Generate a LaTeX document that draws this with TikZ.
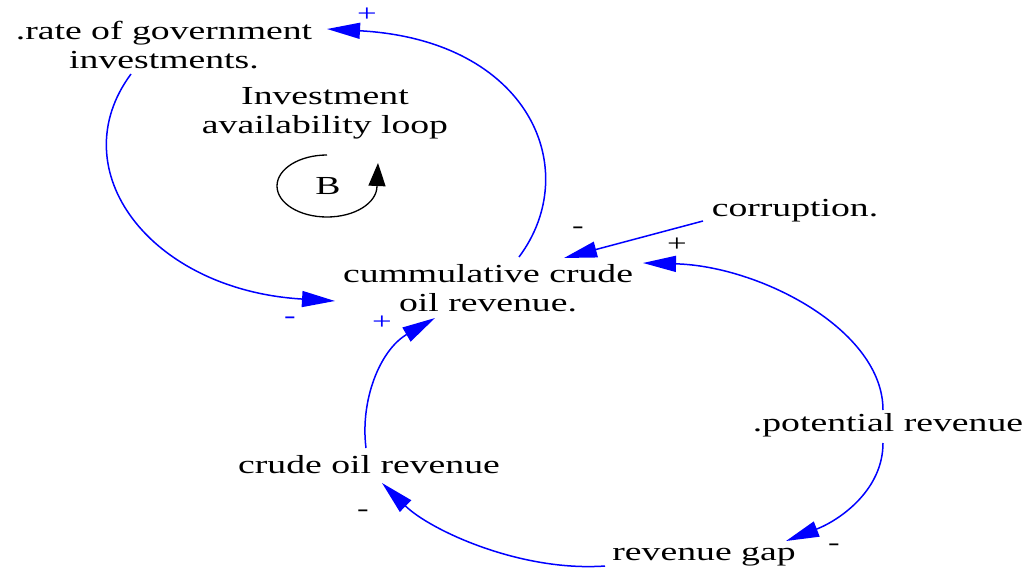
\documentclass[tikz,border=0pt]{standalone}
\usepackage{fontspec}
\setmainfont[FakeStretch=1.45]{Liberation Serif}
\usetikzlibrary{arrows.meta,calc}
\definecolor{linkblue}{RGB}{0,0,255}
\tikzset{
  var/.style={font=\fontsize{26}{29}\selectfont, align=center, inner sep=0pt, text=black},
  sign/.style={font=\fontsize{24}{24}\selectfont, inner sep=0pt},
  link/.style={draw=linkblue, line width=1.5pt, -{Triangle[length=33pt,width=16pt]}, color=linkblue},
  loopline/.style={draw=black, line width=1.3pt, -{Triangle[length=23pt,width=17pt]}}
}
\begin{document}
\begin{tikzpicture}[x=1pt,y=-1pt]
\useasboundingbox (0,0) rectangle (1034,570);
% variables
\node[var] (rate) at (164,45) {.rate of government\\investments.};
\node[var] (loopname) at (325,113) {Investment\\availability loop};
\node[var] (cumm) at (488,288) {cummulative crude\\oil revenue.};
\node[var] (corr) at (795,211) {corruption.};
\node[var] (pot) at (888,425) {.potential revenue};
\node[var] (crude) at (369,465) {crude oil revenue};
\node[var] (gap) at (704,557) {revenue gap};
% loop marker
\node[var] (Bl) at (328,186) {B};
\draw[loopline] ([shift={(-1,-31)}]Bl.center) arc[start angle=-90, end angle=-360, x radius=50, y radius=31] -- ($(Bl.center)+(50,-23)$);
% links
\draw[link] ($(cumm)+(31,-31)$) .. controls (584,170) and (530,40) .. ($(rate)+(163,-16)$);
\draw[link] ($(rate)+(-33,29)$) .. controls (60,170) and (150,290) .. ($(cumm)+(-153,13)$);
\draw[link] ($(corr)+(-92,10)$) -- ($(cumm)+(76,-30)$);
\draw[link] ($(pot)+(-5,-15)$) .. controls (883,330) and (760,266) .. ($(cumm)+(155,-25)$);
\draw[link] ($(pot)+(-5,18)$) .. controls (883,490) and (840,520) .. ($(gap)+(82,-16)$);
\draw[link] ($(gap)+(-99,9)$) .. controls (520,572) and (430,530) .. ($(crude)+(13,18)$);
\draw[link] ($(crude)+(-3,-17)$) .. controls (360,400) and (380,350) .. ($(cumm)+(-53,30)$);
% polarities
\node[sign, text=linkblue] (s1) at (367,15) {+};
\node[sign, text=linkblue] (s2) at (290,320) {-};
\node[sign] (s3) at (578,230) {-};
\node[sign] (s4) at (677,245) {+};
\node[sign] (s5) at (834,547) {-};
\node[sign] (s6) at (363,513) {-};
\node[sign, text=linkblue] (s7) at (382,323) {+};
\end{tikzpicture}
\end{document}
